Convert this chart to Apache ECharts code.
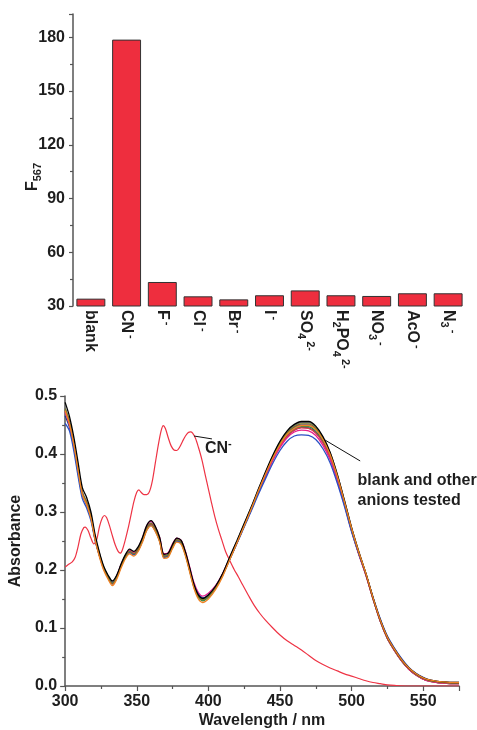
<!DOCTYPE html>
<html><head><meta charset="utf-8">
<script src="https://cdn.jsdelivr.net/npm/echarts@6/dist/echarts.min.js"></script>
<style>html,body{margin:0;padding:0;background:#fff}#c{width:477px;height:730px}</style>
</head><body><div id="c"></div>
<script>
// ---------- top chart data ----------
const anions = ['blank','CN⁻','F⁻','Cl⁻','Br⁻','I⁻','SO₄²⁻','H₂PO₄²⁻','NO₃⁻','AcO⁻','N₃⁻'];
const anionLabels = ['{t|blank}','{t|CN}{sp|-}','{t|F}{sp|-}','{t|Cl}{sp|-}','{t|Br}{sp|-}','{t|I}{sp|-}',
  '{t|SO}{sb|4}{sp|2-}','{t|H}{sb|2}{t|PO}{sb|4}{sp|2-}','{t|NO}{sb|3}{sp|-}','{t|AcO}{sp|-}','{t|N}{sb|3}{sp|-}'];
const f567 = [34.1,178.7,43.4,35.4,33.7,36.0,38.7,36.0,35.6,37.1,37.1];
const f567Ticks = [30,60,90,120,150,180];

// ---------- bottom chart data ----------
const wavelength = [300,303,306,309,312,315,318,321,324,327,
  330,333,336,339,342,345,348,351,354,357,
  360,363,366,369,372,375,378,381,384,387,
  390,393,396,
  400,405,410,415,420,425,430,435,440,445,
  450,455,460,465,470,475,480,485,490,495,
  500,505,510,515,520,525,530,535,540,545,
  550,555,560,565,570,575];
const absBlank = [.489,.465,.430,.386,.342,.325,.300,.260,.230,.206,
  .191,.181,.191,.210,.226,.236,.232,.240,.256,.277,
  .285,.275,.256,.227,.229,.244,.255,.251,.231,.203,
  .175,.157,.151,
  .157,.172,.194,.223,.251,.280,.309,.340,.370,.398,
  .422,.440,.451,.456,.456,.448,.430,.403,.365,.320,
  .273,.232,.194,.152,.114,.084,.063,.045,.031,.021,
  .014,.010,.008,.007,.006,.006];
const absF = [.453,.440,.406,.362,.323,.307,.285,.250,.224,.202,
  .188,.178,.189,.207,.222,.230,.226,.234,.250,.269,
  .277,.267,.250,.222,.225,.240,.250,.246,.228,.201,
  .174,.158,.152,
  .157,.171,.192,.219,.246,.274,.302,.331,.358,.384,
  .406,.422,.431,.433,.432,.425,.409,.385,.350,.310,
  .266,.228,.193,.153,.116,.086,.065,.047,.032,.022,
  .015,.010,.008,.007,.006,.006];
const absCl = [.472,.450,.416,.372,.331,.314,.290,.253,.226,.203,
  .189,.178,.190,.209,.225,.234,.230,.238,.255,.276,
  .284,.274,.256,.228,.230,.245,.255,.251,.232,.205,
  .178,.161,.155,
  .160,.173,.194,.221,.248,.276,.304,.334,.362,.389,
  .411,.428,.438,.441,.440,.432,.415,.390,.354,.312,
  .267,.227,.191,.150,.112,.082,.061,.043,.029,.019,
  .012,.008,.006,.005,.004,.004];
const absBr = [.475,.452,.417,.372,.330,.313,.289,.251,.222,.199,
  .184,.173,.184,.203,.219,.228,.224,.232,.248,.268,
  .276,.266,.248,.220,.222,.237,.248,.244,.224,.196,
  .168,.150,.144,
  .150,.166,.189,.218,.247,.276,.306,.337,.366,.393,
  .416,.434,.444,.449,.449,.442,.425,.399,.362,.318,
  .272,.231,.194,.152,.114,.084,.063,.045,.031,.021,
  .014,.010,.008,.007,.006,.006];
const absI = [.478,.455,.420,.375,.333,.316,.292,.254,.226,.203,
  .188,.177,.188,.207,.223,.232,.228,.236,.252,.272,
  .280,.270,.252,.224,.226,.241,.252,.248,.228,.200,
  .172,.155,.149,
  .155,.170,.192,.220,.248,.277,.306,.337,.366,.394,
  .418,.436,.447,.452,.452,.444,.426,.400,.362,.318,
  .271,.230,.193,.151,.113,.083,.062,.044,.030,.020,
  .013,.009,.007,.006,.005,.005];
const absSO4 = [.474,.452,.418,.373,.332,.315,.291,.253,.225,.202,
  .187,.176,.187,.206,.222,.231,.227,.235,.251,.271,
  .279,.269,.251,.223,.225,.240,.251,.247,.228,.201,
  .174,.158,.152,
  .157,.171,.193,.220,.247,.276,.305,.335,.363,.390,
  .413,.430,.441,.445,.444,.436,.419,.394,.357,.314,
  .268,.228,.191,.150,.112,.082,.061,.043,.029,.019,
  .012,.008,.006,.005,.004,.004];
const absH2PO4 = [.480,.457,.422,.378,.335,.318,.294,.256,.228,.204,
  .189,.178,.189,.208,.224,.233,.229,.237,.253,.273,
  .281,.271,.253,.225,.227,.242,.253,.249,.229,.201,
  .173,.155,.149,
  .155,.171,.193,.222,.250,.279,.308,.339,.368,.396,
  .420,.438,.449,.454,.454,.446,.428,.402,.364,.320,
  .273,.231,.193,.151,.113,.083,.062,.044,.030,.020,
  .013,.009,.007,.006,.005,.005];
const absNO3 = [.476,.453,.419,.374,.332,.315,.291,.253,.225,.202,
  .187,.176,.187,.206,.222,.231,.227,.235,.251,.270,
  .278,.268,.250,.222,.224,.239,.250,.246,.226,.198,
  .170,.153,.147,
  .153,.169,.191,.219,.247,.276,.305,.336,.364,.391,
  .414,.432,.443,.447,.447,.439,.422,.397,.360,.316,
  .270,.229,.192,.150,.112,.082,.061,.043,.029,.019,
  .012,.008,.006,.005,.004,.004];
const absAcO = [.466,.446,.413,.369,.329,.312,.289,.252,.225,.203,
  .188,.178,.189,.208,.223,.232,.228,.236,.252,.272,
  .280,.270,.252,.224,.226,.241,.252,.248,.228,.200,
  .172,.155,.149,
  .155,.170,.192,.220,.248,.277,.305,.335,.364,.391,
  .414,.431,.441,.446,.445,.437,.420,.395,.358,.315,
  .269,.229,.193,.152,.115,.085,.064,.046,.031,.021,
  .014,.009,.007,.006,.005,.005];
const absN3 = [.477,.454,.419,.374,.332,.315,.291,.253,.225,.202,
  .187,.176,.187,.206,.222,.231,.227,.235,.251,.271,
  .279,.269,.251,.223,.225,.240,.251,.247,.227,.199,
  .171,.154,.148,
  .154,.169,.191,.219,.247,.276,.305,.336,.365,.393,
  .417,.435,.446,.450,.450,.442,.424,.398,.361,.317,
  .270,.229,.192,.150,.112,.082,.061,.043,.029,.019,
  .012,.008,.006,.005,.004,.004];
const cnWavelength = [300,302,305,307,309,311,313,314,316,318,
  320,322,324,326,327.5,329,331,333,335,337,
  338.5,340,342,344,346,348,350,351.5,353,355,
  357,359,361,363,365,367,368.5,370,372,374,
  376,378,380,382,384,386,387.5,389,391,393,
  395.5,398,400,402,404.5,407,409.5,412,415,418,
  421,424,428,432,436,440,445,450,455,460,
  465,470,475,480,485,490,495,500,505,510,
  515,520,525,530,540,550,560,575];
const cnAbsorbance = [0.205,0.209,0.214,0.222,0.240,0.262,0.273,0.274,0.268,0.255,
  0.245,0.252,0.275,0.290,0.294,0.290,0.276,0.259,0.243,0.232,
  0.229,0.235,0.252,0.272,0.295,0.318,0.334,0.338,0.334,0.330,
  0.330,0.336,0.355,0.385,0.415,0.440,0.449,0.444,0.428,0.414,
  0.407,0.406,0.412,0.422,0.431,0.437,0.438,0.436,0.427,0.412,
  0.390,0.362,0.340,0.318,0.292,0.270,0.251,0.232,0.216,0.201,
  0.188,0.174,0.156,0.139,0.125,0.113,0.100,0.088,0.078,0.070,
  0.062,0.053,0.044,0.037,0.031,0.026,0.021,0.017,0.013,0.009,
  0.006,0.004,0.002,0.001,0.000,0.000,0.000,0.000];
const wavelengthTicks = [300,350,400,450,500,550];
const absTicks = [0,0.1,0.2,0.3,0.4,0.5];

// band series: name, values, colour (drawing order)
const bandSeries = [
  ['AcO⁻', absAcO, '#23398a'],
  ['N₃⁻', absN3, '#9040b0'],
  ['NO₃⁻', absNO3, '#2f8a45'],
  ['H₂PO₄²⁻', absH2PO4, '#707070'],
  ['SO₄²⁻', absSO4, '#e0394a'],
  ['Cl⁻', absCl, '#e8208c'],
  ['F⁻', absF, '#2a4fc4'],
  ['I⁻', absI, '#7a7a22'],
  ['blank', absBlank, '#000000'],
  ['Br⁻', absBr, '#f08222']
];

const FONT = '"Liberation Sans", Arial, sans-serif';
const TXT = '#1e1e1e';
const AX = '#555';

const chart = echarts.init(document.getElementById('c'), null, {renderer:'canvas'});

const series = [{
  type:'bar', xAxisIndex:0, yAxisIndex:0, data:f567, barWidth:'81%',
  itemStyle:{color:'#EE2E3E', borderColor:'#333', borderWidth:1}
},{
  type:'line', name:'CN⁻', xAxisIndex:1, yAxisIndex:1,
  data: cnWavelength.map((w,i)=>[w, cnAbsorbance[i]]),
  showSymbol:false, smooth:0.3, lineStyle:{color:'#EE3344', width:1.2}, itemStyle:{color:'#EE3344'},
  markLine:{silent:true, symbol:['none','arrow'], symbolSize:[0,7], label:{show:false},
    lineStyle:{color:'#111', width:1, type:'solid'},
    data:[[{coord:[390,0.431]},{coord:[402.5,0.426]}],[{coord:[481.5,0.424]},{coord:[506,0.388]}]]}
}];
bandSeries.forEach(([n, arr, col])=>{
  series.push({type:'line', name:n, xAxisIndex:1, yAxisIndex:1,
    data: wavelength.map((w,i)=>[w, arr[i]]), showSymbol:false, smooth:0.3,
    lineStyle:{color:col, width:1.3}, itemStyle:{color:col}});
});

const lbl = {color:TXT, fontFamily:FONT, fontWeight:'bold', fontSize:16};

chart.setOption({
  animation:false,
  grid:[{left:73, right:11, top:14, bottom:424},{left:62, right:18, top:396, bottom:41}],
  xAxis:[{
    type:'category', gridIndex:0, data:anions, boundaryGap:true,
    axisLine:{show:false}, axisTick:{show:false},
    axisLabel:{interval:0, rotate:-90, margin:4, formatter:(v,i)=>anionLabels[i], color:TXT,
      rich:{
        t:{fontFamily:FONT, fontWeight:'bold', fontSize:16, lineHeight:20, color:TXT},
        sb:{fontFamily:FONT, fontWeight:'bold', fontSize:11, lineHeight:12, verticalAlign:'bottom', color:TXT},
        sp:{fontFamily:FONT, fontWeight:'bold', fontSize:11, lineHeight:12, verticalAlign:'top', color:TXT, padding:[0,0,0,2]}
      }}
  },{
    type:'value', gridIndex:1, min:300, max:575, interval:50,
    axisLine:{show:true, lineStyle:{color:AX, width:1.5}},
    axisTick:{show:true, length:5, lineStyle:{color:AX, width:1.2}},
    minorTick:{show:true, splitNumber:2, length:3, lineStyle:{color:AX, width:1.2}},
    splitLine:{show:false},
    axisLabel:Object.assign({margin:8, formatter:v=>wavelengthTicks.includes(v)?String(v):''}, lbl),
    name:'Wavelength / nm', nameLocation:'middle', nameGap:27, nameTextStyle:lbl
  }],
  yAxis:[{
    type:'value', gridIndex:0, min:30, max:193, interval:30,
    axisLine:{show:true, lineStyle:{color:AX, width:1.5}},
    axisTick:{show:true, length:4, lineStyle:{color:AX, width:1.2}},
    minorTick:{show:true, splitNumber:2, length:3, lineStyle:{color:AX, width:1.2}},
    splitLine:{show:false},
    axisLabel:Object.assign({margin:8, formatter:v=>f567Ticks.includes(v)?String(v):''}, lbl)
  },{
    type:'value', gridIndex:1, min:0, max:0.5, interval:0.1,
    axisLine:{show:true, lineStyle:{color:AX, width:1.5}},
    axisTick:{show:true, length:5, lineStyle:{color:AX, width:1.2}},
    minorTick:{show:true, splitNumber:2, length:3, lineStyle:{color:AX, width:1.2}},
    splitLine:{show:false},
    axisLabel:Object.assign({margin:8, formatter:v=>{const r=Math.round(v*10)/10; return absTicks.includes(r)?r.toFixed(1):'';}}, lbl),
    name:'Absorbance', nameLocation:'middle', nameGap:32, nameRotate:90, nameTextStyle:lbl
  }],
  series: series
});

// annotations placed from data coordinates
const cnPos = chart.convertToPixel({gridIndex:1}, [397.6, 0.409]);
const bandPos = chart.convertToPixel({gridIndex:1}, [504.2, 0.371]);
chart.setOption({graphic:[
  {type:'text', x:33, y:177, rotation:Math.PI/2,
   style:{text:'{f|F}{s|567}', align:'center', verticalAlign:'middle', fill:TXT,
     rich:{f:{fontFamily:FONT, fontWeight:'bold', fontSize:16, lineHeight:20, fill:TXT},
           s:{fontFamily:FONT, fontWeight:'bold', fontSize:11, lineHeight:12, verticalAlign:'bottom', fill:TXT}}}},
  {type:'text', x:cnPos[0], y:cnPos[1],
   style:{text:'{t|CN}{s|-}', align:'left', verticalAlign:'middle', fill:TXT,
     rich:{t:{fontFamily:FONT, fontWeight:'bold', fontSize:16, lineHeight:20, fill:TXT},
           s:{fontFamily:FONT, fontWeight:'bold', fontSize:11, lineHeight:12, verticalAlign:'top', fill:TXT}}}},
  {type:'text', x:bandPos[0], y:bandPos[1],
   style:{text:'blank and other\nanions tested', align:'left', verticalAlign:'top', fill:TXT,
     font:'bold 16px '+FONT, lineHeight:20}}
]});
</script>
</body></html>
